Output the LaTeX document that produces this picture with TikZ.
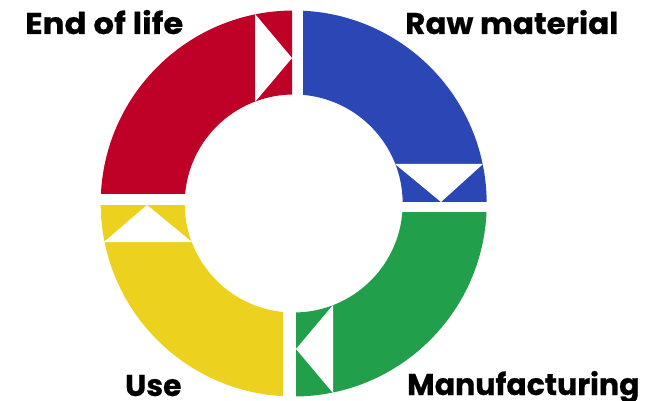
\documentclass[tikz,border=0pt]{standalone}
\usepackage{fontspec}
\setmainfont{Poppins}[BoldFeatures={FakeBold=0.6}]
\definecolor{cred}{HTML}{BF0027}
\definecolor{cblue}{HTML}{2A47B5}
\definecolor{cgreen}{HTML}{229F4B}
\definecolor{cyellow}{HTML}{ECD21F}
\tikzset{
  ring/.style={even odd rule},
  arrowtri/.style={fill=white},
  lbl/.style={inner sep=0pt, anchor=base west, font=\fontsize{30}{30}\selectfont\bfseries}
}
\begin{document}
\begin{tikzpicture}[x=1pt,y=-1pt]
\useasboundingbox (0,0) rectangle (659,401);
\coordinate (C) at (293.7,203.5);
% blue: raw material
\begin{scope}
\clip (303,-10) rectangle (700,202);
\fill[cblue,ring] (C) circle[radius=193pt] (C) circle[radius=109pt];
\end{scope}
% red: end of life
\begin{scope}
\clip (-10,-10) rectangle (292,194);
\fill[cred,ring] (C) circle[radius=193pt] (C) circle[radius=109pt];
\end{scope}
% yellow: use
\begin{scope}
\clip (-10,205) rectangle (283,420);
\fill[cyellow,ring] (C) circle[radius=193pt] (C) circle[radius=109pt];
\end{scope}
% green: manufacturing
\begin{scope}
\clip (296,212) rectangle (700,420);
\fill[cgreen,ring] (C) circle[radius=193pt] (C) circle[radius=109pt];
\end{scope}
% white arrow triangles
\fill[arrowtri] (255,14) -- (255,102) -- (292,58) -- cycle;
\fill[arrowtri] (395,164) -- (483,164) -- (441,202) -- cycle;
\fill[arrowtri] (104,242) -- (192,242) -- (147,205) -- cycle;
\fill[arrowtri] (333,305) -- (333,393) -- (296,349) -- cycle;
% labels
\node[lbl] (eol) at (25,34) {\scalebox{1.08}[1]{End of life}};
\node[lbl] (raw) at (405,34) {\scalebox{1.035}[1]{Raw material}};
\node[lbl] (use) at (125,396) {Use};
\node[lbl] (man) at (407,395) {Manufacturing};
\end{tikzpicture}
\end{document}
